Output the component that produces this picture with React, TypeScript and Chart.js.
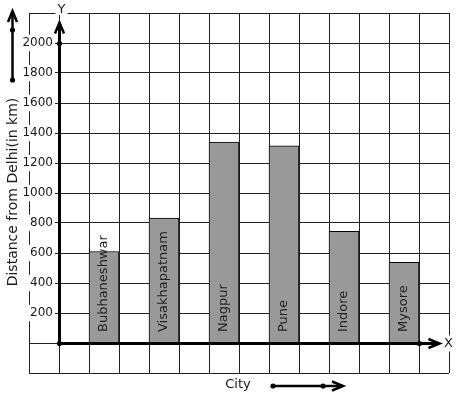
import React, { useEffect, useRef } from "react";
import { Chart, registerables } from "chart.js";

Chart.register(...registerables);

// ---- data ----
const cities = ["Bubhaneshwar", "Visakhapatnam", "Nagpur", "Pune", "Indore", "Mysore"];
const distances = [610, 832, 1340, 1315, 745, 537];
const yTickLabels = [200, 400, 600, 800, 1000, 1200, 1400, 1600, 1800, 2000];
const yMin = -200;
const yMax = 2200;
const yStep = 200;
const xMin = -1;
const xMax = 13;
const xAxisName = "X";
const yAxisName = "Y";
const xTitle = "City";
const yTitle = "Distance from Delhi(in km)";

const FONT = "'DejaVu Sans', sans-serif";
const INK = "#1a1a1a";

function arrowHead(ctx: CanvasRenderingContext2D, tx: number, ty: number, dir: "up" | "right") {
  ctx.beginPath();
  if (dir === "up") {
    ctx.moveTo(tx - 4.5, ty + 11);
    ctx.lineTo(tx, ty);
    ctx.lineTo(tx + 4.5, ty + 11);
  } else {
    ctx.moveTo(tx - 11, ty - 4.5);
    ctx.lineTo(tx, ty);
    ctx.lineTo(tx - 11, ty + 4.5);
  }
  ctx.stroke();
}

function dot(ctx: CanvasRenderingContext2D, x: number, y: number) {
  ctx.beginPath();
  ctx.arc(x, y, 2.6, 0, Math.PI * 2);
  ctx.fill();
}

const decor = {
  id: "decor",
  afterDatasetsDraw(chart: any) {
    const ctx: CanvasRenderingContext2D = chart.ctx;
    const ys = chart.scales.y;
    const y0 = ys.getPixelForValue(0);
    const meta = chart.getDatasetMeta(0);
    ctx.save();
    ctx.fillStyle = "#222";
    ctx.font = `13px ${FONT}`;
    ctx.textAlign = "left";
    ctx.textBaseline = "middle";
    meta.data.forEach((bar: any, i: number) => {
      ctx.save();
      ctx.translate(bar.x, y0 - 11);
      ctx.rotate(-Math.PI / 2);
      ctx.fillText(cities[i], 0, 0);
      ctx.restore();
    });
    ctx.restore();
  },
  afterDraw(chart: any) {
    const ctx: CanvasRenderingContext2D = chart.ctx;
    const xs = chart.scales.x;
    const ys = chart.scales.y;
    const x0 = Math.round(xs.getPixelForValue(0)) + 0.5;
    const y0 = Math.round(ys.getPixelForValue(0)) + 0.5;
    const yTopTick = Math.round(ys.getPixelForValue(yTickLabels[yTickLabels.length - 1])) + 0.5;
    const xLastCol = Math.round(xs.getPixelForValue(xMax - 1)) + 0.5;
    const area = chart.chartArea;
    ctx.save();
    ctx.strokeStyle = "#000";
    ctx.fillStyle = "#000";
    ctx.lineWidth = 3;
    ctx.lineCap = "butt";
    // y axis
    const yTip = yTopTick - 21;
    ctx.beginPath();
    ctx.moveTo(x0, y0);
    ctx.lineTo(x0, yTip + 1);
    ctx.stroke();
    ctx.lineWidth = 2.5;
    arrowHead(ctx, x0, yTip, "up");
    // x axis
    const xTip = xLastCol + 20;
    ctx.lineWidth = 3;
    ctx.beginPath();
    ctx.moveTo(x0, y0);
    ctx.lineTo(xTip - 1, y0);
    ctx.stroke();
    ctx.lineWidth = 2.5;
    arrowHead(ctx, xTip, y0, "right");
    dot(ctx, x0, y0);
    dot(ctx, x0, yTopTick);
    dot(ctx, xLastCol, y0);

    // axis letters
    ctx.font = `13px ${FONT}`;
    ctx.textBaseline = "middle";
    ctx.textAlign = "center";
    const yLetterX = x0 + 2;
    const yLetterY = area.top - 3;
    ctx.fillStyle = "#fff";
    ctx.fillRect(yLetterX - 6, area.top - 2, 12, 4);
    ctx.fillStyle = INK;
    ctx.fillText(yAxisName, yLetterX, yLetterY);
    ctx.fillStyle = "#fff";
    ctx.fillRect(xTip + 3, y0 - 8, 12, 16);
    ctx.fillStyle = INK;
    ctx.fillText(xAxisName, xTip + 9, y0);

    // y title
    ctx.font = `14px ${FONT}`;
    ctx.save();
    ctx.translate(13, (area.top + area.bottom) / 2 - 1);
    ctx.rotate(-Math.PI / 2);
    ctx.textAlign = "center";
    ctx.fillText(yTitle, 0, 0);
    ctx.restore();

    // x title
    ctx.font = `13px ${FONT}`;
    ctx.textAlign = "center";
    const tx = 238;
    const ty = area.bottom + 12;
    ctx.fillText(xTitle, tx, ty);

    // decorative arrows
    ctx.strokeStyle = "#000";
    ctx.fillStyle = "#000";
    ctx.lineWidth = 2.5;
    const lx = 12.5;
    ctx.beginPath();
    ctx.moveTo(lx, 80);
    ctx.lineTo(lx, 12);
    ctx.stroke();
    arrowHead(ctx, lx, 11, "up");
    dot(ctx, lx, 30);
    dot(ctx, lx, 80);

    const by = ty + 1;
    ctx.beginPath();
    ctx.moveTo(273, by);
    ctx.lineTo(342, by);
    ctx.stroke();
    arrowHead(ctx, 343, by, "right");
    dot(ctx, 273, by);
    dot(ctx, 323, by);
    ctx.restore();
  },
};

export default function App() {
  const ref = useRef<HTMLCanvasElement>(null);
  useEffect(() => {
    Chart.defaults.font.family = FONT;
    const chart = new Chart(ref.current!, {
      type: "bar",
      data: {
        datasets: [
          {
            data: cities.map((c, i) => ({ x: i * 2 + 1.5, y: distances[i] })),
            backgroundColor: "#999999",
            borderColor: "#000",
            borderWidth: 1,
            barPercentage: 1,
            categoryPercentage: 1,
          },
        ],
      },
      options: {
        animation: false,
        responsive: true,
        maintainAspectRatio: false,
        devicePixelRatio: 1,
        layout: { padding: { left: 29, top: 13, right: 8, bottom: 26 } },
        plugins: { legend: { display: false }, tooltip: { enabled: false } },
        scales: {
          x: {
            type: "linear",
            position: "bottom",
            offset: false,
            min: xMin,
            max: xMax,
            ticks: { display: false, stepSize: 1, maxTicksLimit: 100 },
            grid: { color: "#222", lineWidth: 1, drawTicks: false, offset: false },
            border: { display: false },
          },
          y: {
            type: "linear",
            // labels sit just left of the y axis (x = 0)
            position: { x: -0.2 },
            min: yMin,
            max: yMax,
            ticks: {
              stepSize: yStep,
              maxTicksLimit: 100,
              autoSkip: false,
              padding: 0,
              color: INK,
              font: { size: 12, family: FONT },
              callback: (v: any) => (yTickLabels.includes(Number(v)) ? String(v) : ""),
              showLabelBackdrop: true,
              backdropColor: (c: any) =>
                c.tick && yTickLabels.includes(Number(c.tick.value)) ? "#fff" : "rgba(0,0,0,0)",
              backdropPadding: { top: 1, bottom: 1, left: 2, right: 2 },
              z: 1,
            },
            grid: { color: "#222", lineWidth: 1, drawTicks: false },
            border: { display: false },
          },
        },
      } as any,
      plugins: [decor],
    });
    return () => chart.destroy();
  }, []);
  return (
    <div style={{ position: "fixed", left: 0, top: 0, width: 457, height: 399, background: "#fff" }}>
      <canvas ref={ref} />
    </div>
  );
}
